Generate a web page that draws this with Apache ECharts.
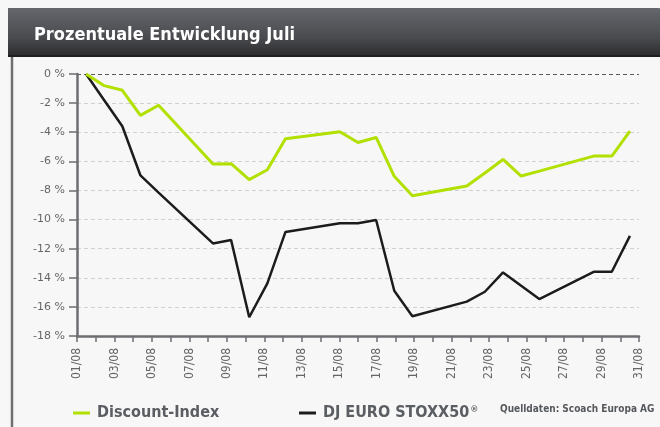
<!DOCTYPE html>
<html><head><meta charset="utf-8">
<script src="https://cdn.jsdelivr.net/npm/echarts@6/dist/echarts.min.js"></script>
<style>html,body{margin:0;padding:0;background:#f7f7f7}#c{width:660px;height:427px}</style>
</head><body><div id="c"></div>
<script>
// Categories (every calendar day of August; weekends have no quote)
const days = ['01/08','02/08','03/08','04/08','05/08','06/08','07/08','08/08','09/08','10/08',
  '11/08','12/08','13/08','14/08','15/08','16/08','17/08','18/08','19/08','20/08',
  '21/08','22/08','23/08','24/08','25/08','26/08','27/08','28/08','29/08','30/08','31/08'];
// Percent change since start of month
const discountIndex = [0, -0.8, -1.12, -2.84, -2.15, null, null, -6.19, -6.16, -7.26,
  -6.58, -4.45, null, null, -3.97, -4.71, -4.36, -7.03, -8.36, null,
  null, -7.7, -6.8, -5.87, -7.01, -6.67, null, null, -5.64, -5.64, -3.93];
const euroStoxx50 = [0, -1.8, -3.59, -6.97, -8.15, null, null, -11.64, -11.4, -16.71,
  -14.38, -10.85, null, null, -10.25, -10.25, -10.03, -14.89, -16.64, null,
  null, -15.64, -14.96, -13.63, -14.55, -15.46, null, null, -13.59, -13.59, -11.12];
const seriesNames = ['Discount-Index', 'DJ EURO STOXX50®'];
const yMin = -18, yMax = 0, yStep = 2;

const COND = "'DejaVu Sans Condensed', 'Liberation Sans Narrow', sans-serif";
const AX = '#6d6e72';
const chart = echarts.init(document.getElementById('c'), null, {renderer: 'canvas'});
const splitColors = [];
for (let v = yMin; v <= yMax; v += yStep) splitColors.push(v === 0 ? '#5a5a5a' : '#d0d0d0');

chart.setOption({
  animation: false,
  backgroundColor: '#f7f7f7',
  title: {
    text: 'Prozentuale Entwicklung Juli', left: 29, top: 21,
    textStyle: {color: '#ffffff', fontFamily: COND, fontWeight: 'bold', fontSize: 18}
  },
  graphic: [
    {type: 'rect', z: -1, shape: {x: 8, y: 8, width: 660, height: 49, r: [0, 10, 0, 0]},
     style: {fill: new echarts.graphic.LinearGradient(0, 0, 0, 1, [
       {offset: 0, color: '#66676c'}, {offset: 0.6, color: '#4a4b4f'}, {offset: 1, color: '#2a2a2c'}])}},
    {type: 'rect', z: -1, shape: {x: 8, y: 55, width: 652, height: 2}, style: {fill: '#1e1e1e'}},
    {type: 'line', shape: {x1: 12, y1: 57, x2: 12, y2: 427}, style: {stroke: '#6f6f72', lineWidth: 2.5}},
    {type: 'text', left: 500, top: 404,
     style: {text: 'Quelldaten: Scoach Europa AG', fill: '#55585c', font: 'bold 10px ' + COND}}
  ],
  legend: [
    {data: [seriesNames[0]], left: 68, top: 400, icon: 'rect', itemWidth: 17, itemHeight: 3,
     textStyle: {color: '#5a5d62', fontFamily: COND, fontWeight: 'bold', fontSize: 16, padding: [0, 0, 0, 2]}},
    {data: [seriesNames[1]], left: 294, top: 400, icon: 'rect', itemWidth: 17, itemHeight: 3,
     formatter: n => n.replace('®', '{r|®}'),
     textStyle: {color: '#5a5d62', fontFamily: COND, fontWeight: 'bold', fontSize: 16, padding: [0, 0, 0, 2],
       rich: {r: {fontSize: 9, fontFamily: COND, color: '#5a5d62', padding: [0, 0, 7, 1]}}}}
  ],
  grid: {left: 77, right: 21, top: 74, bottom: 91, containLabel: false},
  xAxis: [
    {type: 'category', data: days, boundaryGap: false, position: 'bottom',
     axisLine: {onZero: false, lineStyle: {color: AX, width: 2.5}},
     axisTick: {show: true, interval: 0, length: 6, lineStyle: {color: AX, width: 1.5}},
     axisLabel: {interval: 1, rotate: 90, margin: 12, color: '#666666', fontSize: 12, fontFamily: 'DejaVu Sans Condensed'},
     splitLine: {show: false}},
    {type: 'category', data: days, boundaryGap: true, position: 'bottom', show: false,
     axisLine: {show: false, onZero: false}, axisTick: {show: false}, axisLabel: {show: false}, splitLine: {show: false}}
  ],
  yAxis: {
    type: 'value', min: yMin, max: yMax, interval: yStep,
    axisLine: {show: true, lineStyle: {color: AX, width: 2.5}},
    axisTick: {show: true, length: 8, lineStyle: {color: AX, width: 1.5}},
    axisLabel: {formatter: v => v + ' %', margin: 12, color: '#666666', fontSize: 11, fontFamily: 'DejaVu Sans'},
    splitLine: {show: true, lineStyle: {color: splitColors, type: [4, 3], width: 1}}
  },
  series: [
    {name: seriesNames[0], type: 'line', xAxisIndex: 1, data: discountIndex, connectNulls: true,
     showSymbol: false, symbol: 'none', color: '#b2e000', lineStyle: {color: '#b2e000', width: 3}, z: 3},
    {name: seriesNames[1], type: 'line', xAxisIndex: 1, data: euroStoxx50, connectNulls: true,
     showSymbol: false, symbol: 'none', color: '#1c1c1c', lineStyle: {color: '#1c1c1c', width: 2.5}, z: 2}
  ]
});
</script></body></html>
